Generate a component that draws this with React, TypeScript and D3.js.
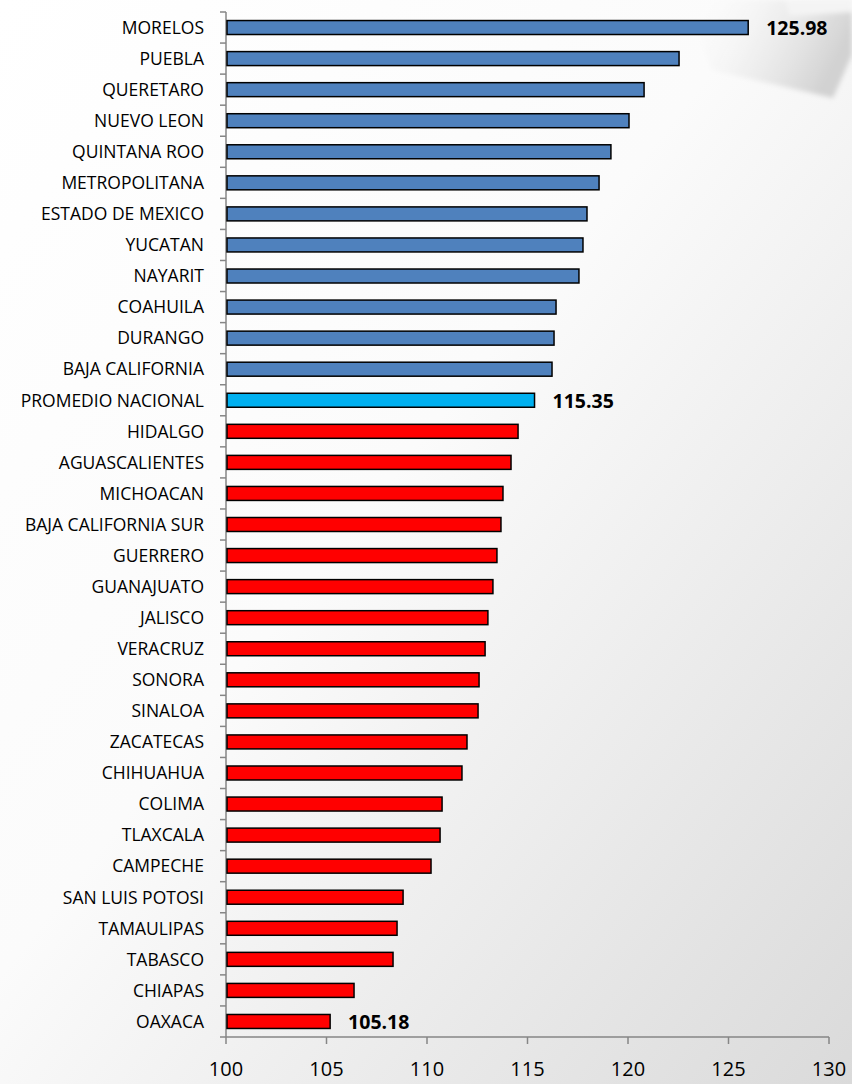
import React from "react";
import * as d3 from "d3";

const categories = [
  "MORELOS", "PUEBLA", "QUERETARO", "NUEVO LEON", "QUINTANA ROO", "METROPOLITANA",
  "ESTADO DE MEXICO", "YUCATAN", "NAYARIT", "COAHUILA", "DURANGO", "BAJA CALIFORNIA",
  "PROMEDIO NACIONAL", "HIDALGO", "AGUASCALIENTES", "MICHOACAN", "BAJA CALIFORNIA SUR",
  "GUERRERO", "GUANAJUATO", "JALISCO", "VERACRUZ", "SONORA", "SINALOA", "ZACATECAS",
  "CHIHUAHUA", "COLIMA", "TLAXCALA", "CAMPECHE", "SAN LUIS POTOSI", "TAMAULIPAS",
  "TABASCO", "CHIAPAS", "OAXACA",
];
const values = [
  125.98, 122.54, 120.8, 120.05, 119.15, 118.56, 117.96, 117.76, 117.56, 116.42, 116.32, 116.22,
  115.35, 114.53, 114.18, 113.78, 113.68, 113.48, 113.28, 113.03, 112.89, 112.59, 112.54, 111.99,
  111.74, 110.75, 110.65, 110.2, 108.81, 108.51, 108.31, 106.37, 105.18,
];
const labeled = ["MORELOS", "PROMEDIO NACIONAL", "OAXACA"];
const xTicks = [100, 105, 110, 115, 120, 125, 130];
const AVERAGE = "PROMEDIO NACIONAL";

export default function App() {
  const W = 852, H = 1084;
  const left = 226, right = 829, top = 12, bottom = 1037;
  const x = d3.scaleLinear().domain([100, 130]).range([left, right]);
  const y = d3.scaleBand().domain(categories).range([top, bottom]).paddingInner(0.55).paddingOuter(0.275);
  const band = (bottom - top) / categories.length;
  const font = "'Open Sans', 'Liberation Sans', sans-serif";
  const avg = values[categories.indexOf(AVERAGE)];
  const colorOf = (c: string, v: number) =>
    c === AVERAGE ? "#00B0F0" : v > avg ? "#4F81BD" : "#FF0000";
  return (
    <svg width={W} height={H} style={{ position: "absolute", left: 0, top: 0 }}>
      <defs>
        <linearGradient id="bg" x1="0" y1="0" x2="1" y2="1">
          <stop offset="0" stopColor="#ffffff" />
          <stop offset="0.45" stopColor="#fbfbfb" />
          <stop offset="1" stopColor="#dadada" />
        </linearGradient>
        <linearGradient id="sw" x1="0" y1="0" x2="1" y2="0.3">
          <stop offset="0" stopColor="#ffffff" stopOpacity="0" />
          <stop offset="1" stopColor="#d2d2d2" stopOpacity="1" />
        </linearGradient>
        <filter id="soft" x="-10%" y="-20%" width="120%" height="140%">
          <feGaussianBlur stdDeviation="2.5" />
        </filter>
      </defs>
      <rect x={0} y={0} width={W} height={H} fill="url(#bg)" />
      <g filter="url(#soft)">
        <path d="M685,0 L852,0 L852,55 L833,98 L712,70 Z" fill="url(#sw)" />
        <path d="M785,0 L852,0 L852,12 L790,16 Z" fill="#f4f4f4" />
      </g>
      {/* y axis */}
      <line x1={left} x2={left} y1={top} y2={bottom} stroke="#868686" strokeWidth={1.5} />
      {d3.range(categories.length + 1).map((i) => (
        <line key={"yt" + i} x1={left - 6} x2={left} y1={top + i * band} y2={top + i * band} stroke="#868686" strokeWidth={1.5} />
      ))}
      {/* x axis */}
      <line x1={left} x2={right} y1={bottom} y2={bottom} stroke="#868686" strokeWidth={1.5} />
      {xTicks.map((t) => (
        <g key={"xt" + t}>
          <line x1={x(t)} x2={x(t)} y1={bottom} y2={bottom + 7} stroke="#868686" strokeWidth={1.5} />
          <text x={x(t)} y={1076} textAnchor="middle" fontFamily={font} fontSize={20} fill="#000">{t}</text>
        </g>
      ))}
      {categories.map((c, i) => {
        const v = values[i];
        const yy = y(c)!;
        return (
          <g key={c}>
            <text x={204} y={yy + y.bandwidth() / 2} dy="0.36em" textAnchor="end" fontFamily={font} fontSize={17.5} fill="#000">{c}</text>
            <rect x={x(100) + 1} y={yy} width={x(v) - x(100) - 1} height={y.bandwidth()} fill={colorOf(c, v)} stroke="#000" strokeWidth={1.5} />
            {labeled.includes(c) && (
              <text x={x(v) + 18} y={yy + y.bandwidth() / 2} dy="0.38em" fontFamily={font} fontWeight="bold" fontSize={19.5} fill="#000">{v.toFixed(2)}</text>
            )}
          </g>
        );
      })}
    </svg>
  );
}
